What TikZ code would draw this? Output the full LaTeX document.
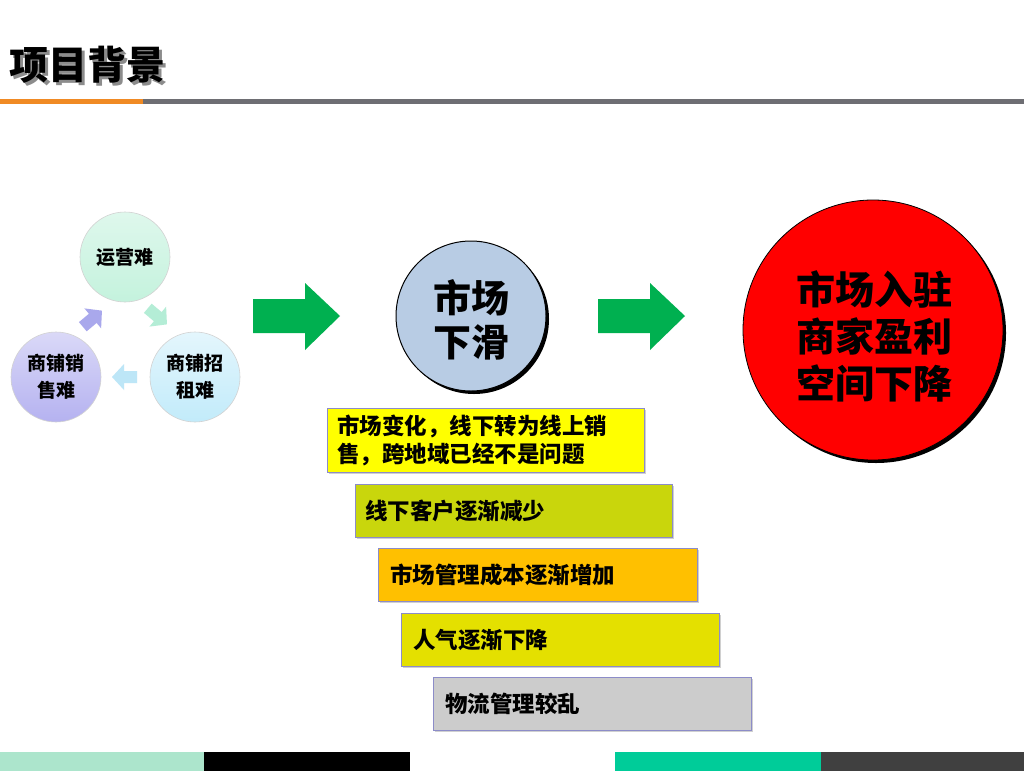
\documentclass[tikz,border=0pt]{standalone}
\usepackage{fontspec}
\setmainfont{Noto Sans CJK SC}
\usetikzlibrary{shadows}
\definecolor{ttlorange}{HTML}{F08A24}
\definecolor{ttlgray}{HTML}{6E6E73}
\definecolor{bmint}{HTML}{ACE5CC}
\definecolor{bteal}{HTML}{00CC99}
\definecolor{bdark}{HTML}{404040}
\definecolor{cmint}{HTML}{C4F2DD}
\definecolor{cblue}{HTML}{C2EBFA}
\definecolor{clav}{HTML}{B5B2F0}
\definecolor{amint}{HTML}{B4EDD6}
\definecolor{ablue}{HTML}{BDE6F7}
\definecolor{alav}{HTML}{A9A8EC}
\definecolor{agreen}{HTML}{00B050}
\definecolor{midblue}{HTML}{B8CCE4}
\definecolor{boxA}{HTML}{FFFF00}
\definecolor{boxB}{HTML}{C9D60C}
\definecolor{boxC}{HTML}{FFC000}
\definecolor{boxD}{HTML}{E4E000}
\definecolor{boxE}{HTML}{CCCCCC}
\definecolor{boxline}{HTML}{8C8CC8}
\tikzset{
  smallcirc/.style={circle, minimum size=90pt, inner sep=0pt, draw=gray!35, line width=0.6pt, font=\bfseries\fontsize{19}{27}\selectfont, align=center},
  stepbox/.style={draw=boxline, line width=0.8pt, anchor=north west, inner ysep=0pt, font=\bfseries\fontsize{22.5}{28}\selectfont, align=left,
    drop shadow={shadow xshift=2pt, shadow yshift=-2pt, fill=black!30, opacity=0.6}},
  blockarrow/.pic={\fill[pic actions] (-12,-6) -- (1,-6) -- (1,-13) -- (13,0) -- (1,13) -- (1,6) -- (-12,6) -- cycle;},
}
\begin{document}
\begin{tikzpicture}[x=1pt,y=-1pt]
\useasboundingbox (0,0) rectangle (1024,771);
\fill[white] (0,0) rectangle (1024,771);
% title
\node[anchor=west, inner sep=0pt, font=\bfseries\fontsize{39}{42}\selectfont] (ttl) at (9,66) {\rlap{\kern3pt\raisebox{-3pt}{\color{black!45}项目背景}}项目背景};
\fill[ttlorange] (0,99) rectangle (143,104);
\fill[ttlgray] (143,99) rectangle (1024,104);
% bottom bars
\fill[bmint] (0,752) rectangle (204,771);
\fill[black] (204,752) rectangle (410,771);
\fill[bteal] (615,752) rectangle (821,771);
\fill[bdark] (821,752) rectangle (1024,771);
% left cycle
\node[smallcirc, top color=cmint!55, bottom color=cmint] (yy) at (125,257) {运营难};
\node[smallcirc, top color=cblue!45, bottom color=cblue] (zs) at (195,377) {商铺招\\租难};
\node[smallcirc, top color=clav!50, bottom color=clav] (xs) at (56,377) {商铺销\\售难};
\pic[fill=amint, rotate=-40] (a1) at (157,316) {blockarrow};
\pic[fill=ablue, rotate=180] (a2) at (125,377) {blockarrow};
\pic[fill=alav, rotate=40] (a3) at (92,319) {blockarrow};
% green arrows
\fill[agreen] (253,299) -- (305,299) -- (305,283) -- (340,316) -- (305,350) -- (305,333) -- (253,333) -- cycle;
\fill[agreen] (598,299) -- (650,299) -- (650,283) -- (685,316) -- (650,350) -- (650,333) -- (598,333) -- cycle;
% middle circle
\fill[black] (474,319) circle (75);
\node[circle, minimum size=150pt, inner sep=0pt, fill=midblue, draw=black, line width=1pt] (mid) at (471,316) {};
\node[font=\bfseries\fontsize{38}{44}\selectfont, align=center] (midtext) at (471,320) {市场\\下滑};
% red circle
\fill[black] (876,333) circle (130);
\node[circle, minimum size=260pt, inner sep=0pt, fill=red, draw=black, line width=0.8pt] (res) at (873,330) {};
\node[font=\bfseries\fontsize{39}{47}\selectfont, align=center] (restext) at (874,336) {市场入驻\\商家盈利\\空间下降};
% boxes
\node[stepbox, fill=boxA, minimum height=64pt, inner xsep=10pt, text width=297pt] (b1) at (327,408) {市场变化，线下转为线上销\\售，跨地域已经不是问题};
\node[stepbox, fill=boxB, minimum height=53pt, inner xsep=10pt, text width=297pt] (b2) at (355,484) {线下客户逐渐减少};
\node[stepbox, fill=boxC, minimum height=53pt, inner xsep=12pt, text width=295pt] (b3) at (378,548) {市场管理成本逐渐增加};
\node[stepbox, fill=boxD, minimum height=53pt, inner xsep=12pt, text width=294pt] (b4) at (401,613) {人气逐渐下降};
\node[stepbox, fill=boxE, minimum height=53pt, inner xsep=12pt, text width=294pt] (b5) at (433,677) {物流管理较乱};
\end{tikzpicture}
\end{document}
